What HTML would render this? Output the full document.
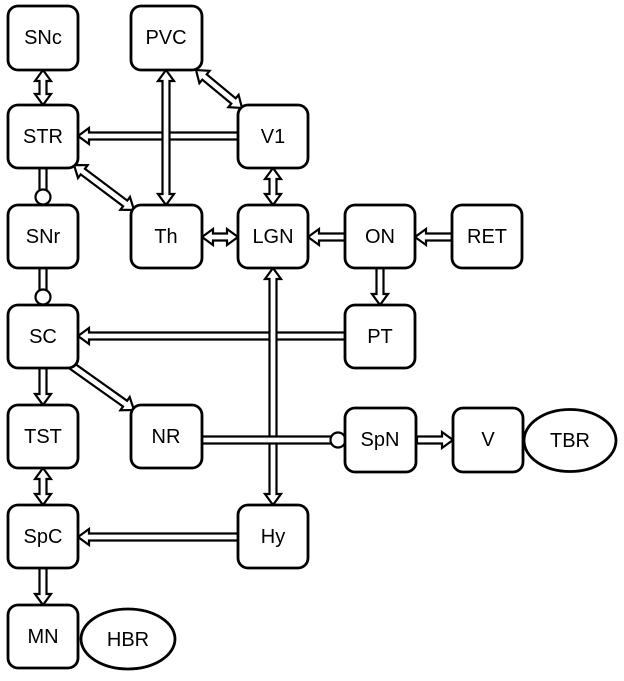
<!DOCTYPE html>
<html><head><style>body{margin:0;background:#fff}svg{display:block}text{font-family:"Liberation Sans",sans-serif;font-size:20px;text-anchor:middle;dominant-baseline:central}</style></head>
<body>
<svg id="s" width="624" height="681" xmlns="http://www.w3.org/2000/svg">
<g id="arr" fill="#fff" stroke="#000" stroke-width="2.2" stroke-linejoin="miter"></g>
<g id="box" fill="#fff" stroke="#000" stroke-width="2.8">
<rect x="8" y="6" width="70" height="64" rx="10"/>
<rect x="131" y="6" width="71" height="64" rx="10"/>
<rect x="8" y="105" width="70" height="63" rx="10"/>
<rect x="238" y="105" width="70" height="63" rx="10"/>
<rect x="8" y="205" width="70" height="63" rx="10"/>
<rect x="131" y="205" width="71" height="63" rx="10"/>
<rect x="238" y="205" width="70" height="63" rx="10"/>
<rect x="345" y="205" width="70" height="63" rx="10"/>
<rect x="452" y="205" width="70" height="63" rx="10"/>
<rect x="8" y="305" width="70" height="63" rx="10"/>
<rect x="345" y="305" width="70" height="63" rx="10"/>
<rect x="8" y="405" width="70" height="63" rx="10"/>
<rect x="131" y="405" width="71" height="63" rx="10"/>
<rect x="345" y="408" width="71" height="64" rx="10"/>
<rect x="453" y="408" width="70" height="64" rx="10"/>
<ellipse cx="570" cy="440.5" rx="46" ry="31"/>
<rect x="8" y="505" width="70" height="63" rx="10"/>
<rect x="238" y="505" width="70" height="63" rx="10"/>
<rect x="8" y="605" width="70" height="63" rx="10"/>
<ellipse cx="128" cy="639" rx="47" ry="30"/>
</g>
<g>
<text x="43" y="38">SNc</text><text x="166" y="38">PVC</text>
<text x="43" y="137">STR</text><text x="273" y="137">V1</text>
<text x="43" y="237">SNr</text><text x="166" y="237">Th</text><text x="273" y="237">LGN</text><text x="380" y="237">ON</text><text x="487" y="237">RET</text>
<text x="43" y="337">SC</text><text x="380" y="337">PT</text>
<text x="43" y="437">TST</text><text x="166" y="437">NR</text><text x="380" y="440">SpN</text><text x="488" y="440">V</text><text x="570" y="441">TBR</text>
<text x="43" y="537">SpC</text><text x="273" y="537">Hy</text>
<text x="43" y="637">MN</text><text x="128" y="640">HBR</text>
</g>
</svg>
<script>
var g=document.getElementById('arr'),NS='http://www.w3.org/2000/svg';
function A(x1,y1,x2,y2,dbl){var dx=x2-x1,dy=y2-y1,L=Math.hypot(dx,dy),ux=dx/L,uy=dy/L,px=-uy,py=ux,w=3.5,hw=8,hl=11;
var pts=[];function P(t,s){pts.push((x1+ux*t+px*s).toFixed(1)+','+(y1+uy*t+py*s).toFixed(1));}
if(dbl){P(0,0);P(hl,hw);P(hl,w);}else{P(0,w);}
P(L-hl,w);P(L-hl,hw);P(L,0);P(L-hl,-hw);P(L-hl,-w);
if(dbl){P(hl,-w);P(hl,-hw);}else{P(0,-w);}
var p=document.createElementNS(NS,'polygon');p.setAttribute('points',pts.join(' '));g.appendChild(p);}
function I(x1,y1,x2,y2,cx,cy){var p=document.createElementNS(NS,'polygon');var w=3.5;
if(y1==y2){p.setAttribute('points',x1+','+(y1-w)+' '+x2+','+(y1-w)+' '+x2+','+(y1+w)+' '+x1+','+(y1+w));}
else{p.setAttribute('points',(x1-w)+','+y1+' '+(x1-w)+','+y2+' '+(x1+w)+','+y2+' '+(x1+w)+','+y1);}
g.appendChild(p);var c=document.createElementNS(NS,'circle');c.setAttribute('cx',cx);c.setAttribute('cy',cy);c.setAttribute('r',7.5);g.appendChild(c);}
A(238,136,78,136);
A(43,70,43,105,1);
A(166,70,166,205,1);
A(196,70,242,108,1);
A(74,165,134,210,1);
I(43,168,43,192,43,197);
I(43,268,43,292,43,297);
A(273,168,273,205,1);
A(202,237,238,237,1);
A(345,237,308,237);
A(452,237,415,237);
A(380,268,380,305);
A(345,336,78,336);
A(273,268,273,505,1);
A(43,368,43,405);
A(72,366,134,410);
I(202,440,331,440,338,440);
A(417,440,453,440);
A(43,468,43,505,1);
A(238,537,78,537);
A(43,568,43,605);
</script>
</body></html>
